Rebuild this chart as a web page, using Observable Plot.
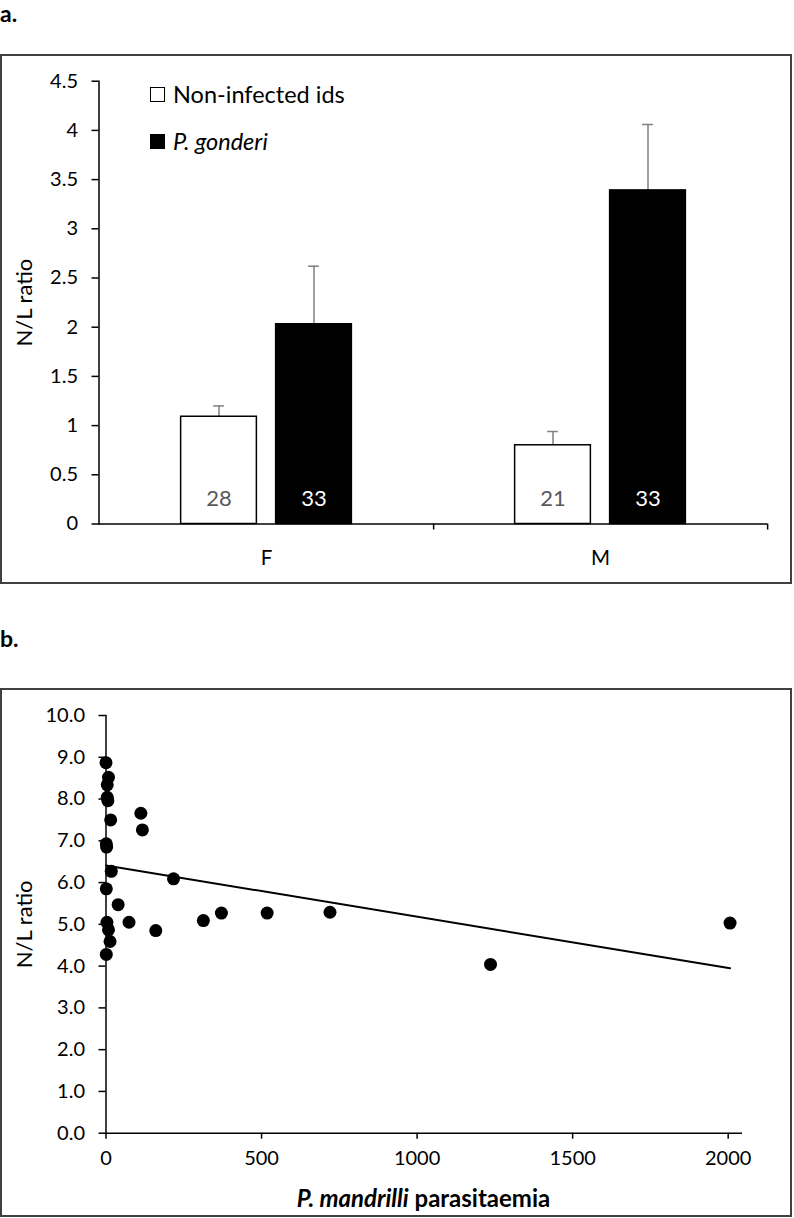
<!DOCTYPE html>
<html><head><meta charset="utf-8">
<script src="https://cdn.jsdelivr.net/npm/d3@7"></script>
<script src="https://cdn.jsdelivr.net/npm/@observablehq/plot@0.6"></script>
<style>
body{margin:0;background:#fff;font-family:Lato,"Open Sans",sans-serif;color:#000}
#page{position:relative;width:794px;height:1218px;overflow:hidden;background:#fff}
.abs{position:absolute}
.frame{position:absolute;box-sizing:border-box;border:2px solid #404040}
.panel{position:absolute;left:0;font-weight:bold;font-size:23px;line-height:24px}
.leg{position:absolute;left:150px;height:26px;display:flex;align-items:center;font-size:23.5px;line-height:26px}
.sq{width:15px;height:15px;box-sizing:border-box;border:1px solid #000;margin-right:8px}
.xtitle{position:absolute;left:123.5px;width:600px;text-align:center;font-weight:bold;font-size:24px;line-height:28px}
</style></head><body><div id="page">
<div class="panel" style="top:1px">a.</div>
<div class="frame" style="left:0;top:54px;width:792px;height:530px"></div>
<div id="chartA" class="abs" style="left:0;top:55px"></div>
<div class="leg" style="top:81px"><div class="sq" style="background:#fff"></div><span id="legNon"></span></div>
<div class="leg" style="top:128px"><div class="sq" style="background:#000"></div><span id="legPg" style="font-style:italic"></span></div>
<div class="panel" style="top:626px">b.</div>
<div class="frame" style="left:0;top:688px;width:792px;height:529px"></div>
<div id="chartB" class="abs" style="left:0;top:689px"></div>
<div class="xtitle" style="top:1184px"><i>P. mandrilli</i> parasitaemia</div>
</div>
<script>
// ---- Panel a data ----
const sexes = ["F", "M"];
const groupNames = ["Non-infected ids", "P. gonderi"];
const nonMean = [1.09, 0.80];
const nonUpper = [1.20, 0.94];
const nonN = [28, 21];
const pgMean = [2.03, 3.39];
const pgUpper = [2.62, 4.06];
const pgN = [33, 33];
const yTicksA = [0, 0.5, 1, 1.5, 2, 2.5, 3, 3.5, 4, 4.5];

// ---- Panel b data ----
const paraX = [0, 8, 4, 4, 6, 15, 112, 117, 1, 2, 17, 217, 1, 39, 3, 74, 8, 160, 13, 1, 313, 371, 518, 720, 1236, 2006];
const nlY   = [8.87, 8.52, 8.34, 8.04, 7.96, 7.50, 7.66, 7.26, 6.93, 6.85, 6.27, 6.09, 5.85, 5.47, 5.05, 5.05, 4.87, 4.85, 4.59, 4.28, 5.09, 5.27, 5.27, 5.29, 4.04, 5.03];
const trendX = [0, 2006];
const trendY = [6.41, 3.95];
const yTicksB = [0, 1, 2, 3, 4, 5, 6, 7, 8, 9, 10];
const xTicksB = [0, 500, 1000, 1500, 2000];

document.getElementById("legNon").textContent = groupNames[0];
document.getElementById("legPg").textContent = groupNames[1];

const non = sexes.map((s, i) => ({sex: s, mean: nonMean[i], upper: nonUpper[i], n: nonN[i]}));
const pg = sexes.map((s, i) => ({sex: s, mean: pgMean[i], upper: pgUpper[i], n: pgN[i]}));

const FS = 20;
const font = {fontFamily: "Lato, 'Open Sans', sans-serif", fontSize: FS + "px", color: "#000", background: "transparent", overflow: "visible"};

// Panel a
const WA = 792, HA = 528, mL = 98.5, mR = 25;
const bandW = (WA - mL - mR) / 2;
const barW = 76, gap = 19;
const outer = (bandW - 2 * barW - gap) / 2;
const off = (barW + gap) / 2;
const capIn = (bandW - 11) / 2;
const errC = "#7f7f7f";

const chartA = Plot.plot({
  width: WA, height: HA,
  marginLeft: mL, marginRight: mR, marginTop: 25.7, marginBottom: 59.5,
  style: font,
  x: {domain: sexes, padding: 0},
  y: {domain: [0, 4.5]},
  marks: [
    Plot.ruleX(non, {x: "sex", y1: "mean", y2: "upper", dx: -off, stroke: errC, strokeWidth: 1.5}),
    Plot.tickY(non, {x: "sex", y: "upper", dx: -off, stroke: errC, strokeWidth: 1.5, insetLeft: capIn, insetRight: capIn}),
    Plot.ruleX(pg, {x: "sex", y1: "mean", y2: "upper", dx: off, stroke: errC, strokeWidth: 1.5}),
    Plot.tickY(pg, {x: "sex", y: "upper", dx: off, stroke: errC, strokeWidth: 1.5, insetLeft: capIn, insetRight: capIn}),
    Plot.barY(non, {x: "sex", y: "mean", fill: "#fff", stroke: "#000", strokeWidth: 1.5, insetLeft: outer, insetRight: bandW - outer - barW}),
    Plot.barY(pg, {x: "sex", y: "mean", fill: "#000", stroke: "#000", strokeWidth: 1.5, insetLeft: outer + barW + gap, insetRight: outer}),
    Plot.text(non, {x: "sex", y: 0, text: d => String(d.n), dx: -off, dy: -25.5, fill: "#595959", fontSize: 22}),
    Plot.text(pg, {x: "sex", y: 0, text: d => String(d.n), dx: off, dy: -25.5, fill: "#fff", fontSize: 22}),
    Plot.ruleY([0], {stroke: "#000", strokeWidth: 1.5}),
    Plot.frame({anchor: "left", stroke: "#000", strokeWidth: 1.5}),
    Plot.axisY({ticks: yTicksA, tickFormat: d => String(d), tickSize: 7, tickPadding: 14, label: null, strokeWidth: 1.5, fontSize: FS}),
    Plot.axisX({tickSize: 6, tickFormat: () => "", dx: bandW / 2, label: null, strokeWidth: 1.5}),
    Plot.axisX({tickSize: 0, tickPadding: 26, label: null, fontSize: 20.5}),
    Plot.text(["N/L ratio"], {text: d => d, frameAnchor: "left", textAnchor: "middle", rotate: -90, dx: -74.5, fontSize: 22})
  ]
});
document.getElementById("chartA").appendChild(chartA);

// Panel b
const pts = paraX.map((x, i) => ({x, y: nlY[i]}));
const trend = trendX.map((x, i) => ({x, y: trendY[i]}));
const chartB = Plot.plot({
  width: 792, height: 526,
  marginLeft: 105.5, marginRight: 50, marginTop: 26, marginBottom: 82.3,
  style: font,
  x: {domain: [0, 2046]},
  y: {domain: [0, 10]},
  marks: [
    Plot.ruleY([0], {stroke: "#000", strokeWidth: 1.5}),
    Plot.frame({anchor: "left", stroke: "#000", strokeWidth: 1.5}),
    Plot.axisY({ticks: yTicksB, tickFormat: d => d.toFixed(1), tickSize: 7, tickPadding: 14, label: null, strokeWidth: 1.5, fontSize: FS}),
    Plot.axisX({ticks: xTicksB, tickFormat: d => String(d), tickSize: 6, tickPadding: 12, label: null, strokeWidth: 1.5, fontSize: FS}),
    Plot.line(trend, {x: "x", y: "y", stroke: "#000", strokeWidth: 2}),
    Plot.dot(pts, {x: "x", y: "y", r: 6.5, fill: "#000"}),
    Plot.text(["N/L ratio"], {text: d => d, frameAnchor: "left", textAnchor: "middle", rotate: -90, dx: -81.5, fontSize: 22})
  ]
});
document.getElementById("chartB").appendChild(chartB);
</script>
</body></html>
